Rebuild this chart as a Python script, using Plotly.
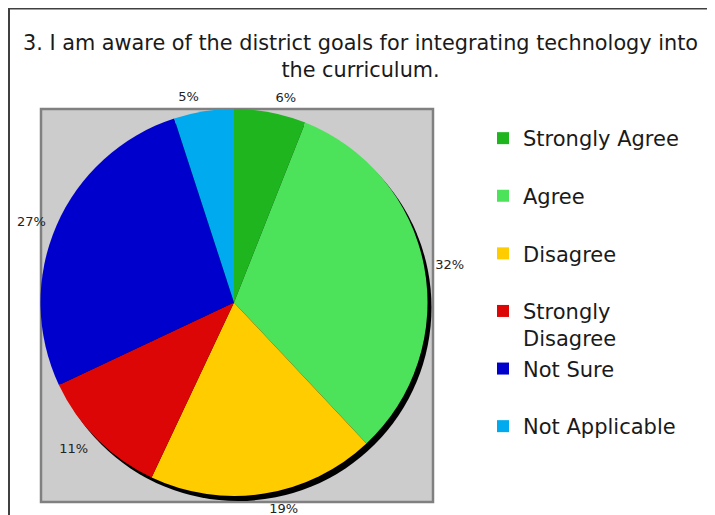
import plotly.graph_objects as go

W, H = 715, 515
OFF = 8  # page offset of the figure in the browser window

categories = ["Strongly Agree", "Agree", "Disagree", "Strongly Disagree", "Not Sure", "Not Applicable"]
legend_labels = ["Strongly Agree<br> ", "Agree<br> ", "Disagree<br> ", "Strongly<br>Disagree", "Not Sure<br> ", "Not Applicable<br> "]
values = [6, 32, 19, 11, 27, 5]
colors = ["#1FB51F", "#4CE35A", "#FFCC00", "#DD0606", "#0000CC", "#00AAEE"]
title_text = "3. I am aware of the district goals for integrating technology into<br>the curriculum."

FONT = "DejaVu Sans, Verdana, sans-serif"

def px(x):
    return (x - OFF) / W

def py(y):
    return 1 - (y - OFF) / H

# pie geometry in screen pixels
cx, cy, r = 234.0, 302.5, 193.5
sx, sy = 4, 5  # shadow offset
rl = 201.0     # radius of the label ring

def dom(c_x, c_y, rad):
    return dict(x=[px(c_x - rad), px(c_x + rad)], y=[py(c_y + rad), py(c_y - rad)])

fig = go.Figure()

# shadow
fig.add_trace(go.Pie(
    values=[1], labels=["shadow"], marker=dict(colors=["#000000"], line=dict(width=0)),
    textinfo="none", hoverinfo="skip", showlegend=False, sort=False,
    domain=dom(cx + sx, cy + sy, r),
))

# main pie
fig.add_trace(go.Pie(
    labels=legend_labels, values=values, sort=False, direction="clockwise", rotation=0,
    marker=dict(colors=colors, line=dict(width=0)),
    textinfo="none",
    hovertext=categories, hoverinfo="text+value",
    domain=dom(cx, cy, r),
))

# transparent ring carrying the percentage labels
fig.add_trace(go.Pie(
    labels=categories, values=values, sort=False, direction="clockwise", rotation=0,
    marker=dict(colors=["rgba(0,0,0,0)"] * len(values), line=dict(width=0)),
    texttemplate="%{value}%", textposition="outside",
    textfont=dict(family=FONT, size=13, color="#222222"),
    hoverinfo="skip", showlegend=False,
    domain=dom(cx, cy, rl),
))

shapes = [
    # gray plot box
    dict(type="rect", xref="paper", yref="paper", layer="below",
         x0=px(41), x1=px(433), y0=py(502), y1=py(109),
         fillcolor="#CCCCCC", line=dict(color="#808080", width=2.5)),
    # outer frame
    dict(type="path", xref="paper", yref="paper",
         path=f"M {px(9)} {py(530)} L {px(9)} {py(8.5)} L {px(713)} {py(8.5)} L {px(713)} {py(530)}",
         line=dict(color="#404040", width=2)),
]

fig.update_layout(
    width=W, height=H,
    margin=dict(l=0, r=0, t=0, b=0),
    paper_bgcolor="white", plot_bgcolor="white",
    font=dict(family=FONT, color="#1a1a1a"),
    shapes=shapes,
    annotations=[dict(
        text=title_text, xref="paper", yref="paper", x=px(360), y=py(56),
        xanchor="center", yanchor="middle", showarrow=False,
        font=dict(family=FONT, size=20.8, color="#1a1a1a"),
    )],
    legend=dict(
        x=px(483), y=py(118), xanchor="left", yanchor="top",
        font=dict(family=FONT, size=21, color="#1a1a1a"),
        valign="top", bgcolor="rgba(0,0,0,0)", borderwidth=0,
    ),
)

fig.write_html("out.html")
